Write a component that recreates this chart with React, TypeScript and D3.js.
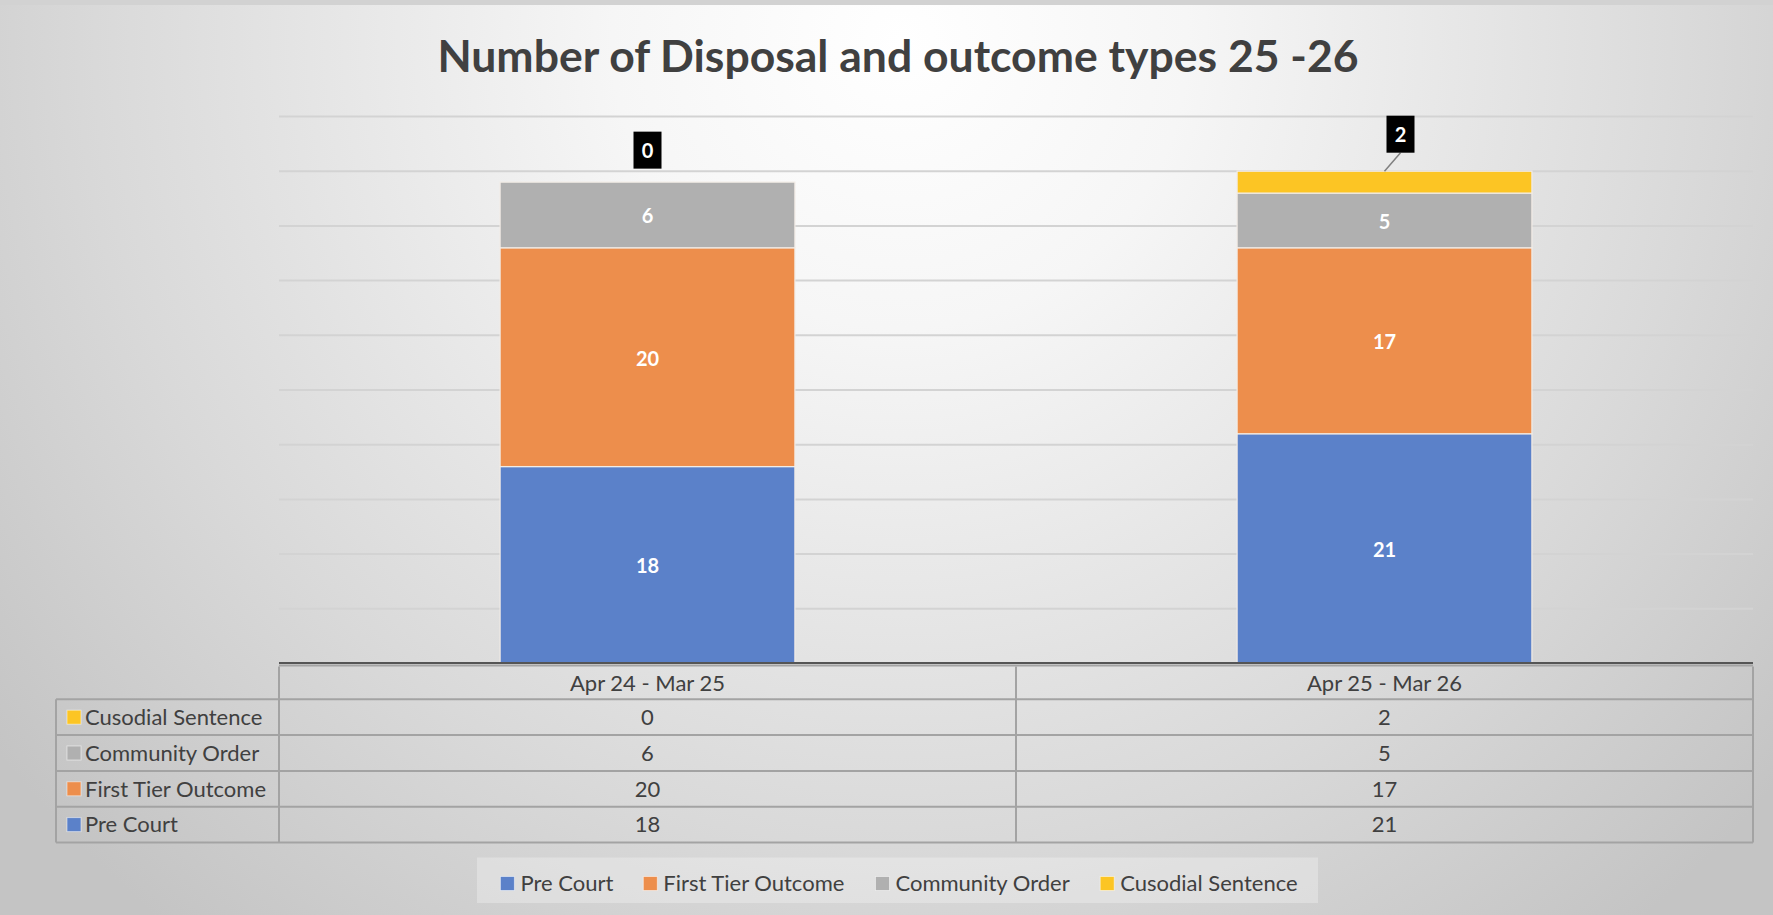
import React, { useMemo } from "react";
import * as d3 from "d3";

// ---- data ----
const categories = ["Apr 24 - Mar 25", "Apr 25 - Mar 26"];
const seriesNames = ["Pre Court", "First Tier Outcome", "Community Order", "Cusodial Sentence"];
const preCourt = [18, 21];
const firstTierOutcome = [20, 17];
const communityOrder = [6, 5];
const cusodialSentence = [0, 2];
const seriesColors = ["#5b81c9", "#ed8e4c", "#b0b0b0", "#fcc524"];
const yDomainMax = 50;
const yTickStep = 5;
const chartTitle = "Number of Disposal and outcome types 25 -26";

// ---- layout ----
const W = 1773;
const H = 915;
const plotLeft = 279;
const plotRight = 1753;
const plotTop = 116.5;
const plotBottom = 663.5;
const tableLeft = 56;
const rowH = 35.8;
const FONT = "Lato, 'Open Sans', sans-serif";
const TEXT = "#404040";
const LINE = "#a3a3a3";
const TABLE_FS = 22;
const LEGEND_FS = 22;
// callout placement of the top-segment labels, relative to the top of each bar
const calloutOffsets = [
  { dx: 0, dy: -32 },
  { dx: 16, dy: -37 },
];

function measure(text: string, font: string): number {
  const c = document.createElement("canvas").getContext("2d");
  if (!c) return text.length * 10;
  c.font = font;
  return c.measureText(text).width;
}

export default function App() {
  const values = [preCourt, firstTierOutcome, communityOrder, cusodialSentence];
  const rows = categories.map((c, i) => {
    const r: Record<string, number | string> = { category: c };
    seriesNames.forEach((s, k) => (r[s] = values[k][i]));
    return r;
  });
  const stacked = d3.stack<any>().keys(seriesNames)(rows as any);

  const x = d3
    .scaleBand<string>()
    .domain(categories)
    .range([plotLeft, plotRight])
    .paddingInner(0.6)
    .paddingOuter(0.3);
  const col = d3.scaleBand<string>().domain(categories).range([plotLeft, plotRight]).padding(0);
  const y = d3.scaleLinear().domain([0, yDomainMax]).range([plotBottom, plotTop]);
  const gridTicks = d3.range(yTickStep, yDomainMax + yTickStep / 2, yTickStep);

  const legendItems = useMemo(() => {
    const gap = 30;
    const widths = seriesNames.map((s) => 20 + measure(s, `${LEGEND_FS}px Lato`));
    const total = d3.sum(widths) + gap * (widths.length - 1);
    let cx = 899 - total / 2;
    return seriesNames.map((s, i) => {
      const item = { name: s, x: cx, color: seriesColors[i] };
      cx += widths[i] + gap;
      return item;
    });
  }, []);

  // table rows listed top-down: last series first
  const tableSeries = seriesNames.map((s, i) => ({ name: s, idx: i })).reverse();
  const headerTop = plotBottom;
  const bodyTop = headerTop + rowH;
  const tableBottom = bodyTop + tableSeries.length * rowH;

  return (
    <svg
      width={W}
      height={H}
      style={{ position: "absolute", left: 0, top: 0, display: "block" }}
      fontFamily={FONT}
    >
      <defs>
        <radialGradient id="bg" gradientUnits="userSpaceOnUse" cx={900} cy={40} r={1150}>
          <stop offset="0" stopColor="#ffffff" />
          <stop offset="0.25" stopColor="#f6f6f6" />
          <stop offset="0.7" stopColor="#d9d9d9" />
          <stop offset="1" stopColor="#c4c4c4" />
        </radialGradient>
      </defs>
      <rect x={0} y={0} width={W} height={H} fill="url(#bg)" />
      <rect x={0} y={0} width={W} height={5} fill="#d2d2d2" />

      {/* title */}
      <text x={898} y={72} textAnchor="middle" fontSize={44.5} fontWeight={700} fill={TEXT}>
        {chartTitle}
      </text>

      {/* gridlines */}
      {gridTicks.map((t) => (
        <line
          key={t}
          x1={plotLeft}
          x2={plotRight}
          y1={y(t)}
          y2={y(t)}
          stroke="#d3d3d3"
          strokeWidth={2}
        />
      ))}

      {/* stacked bars */}
      {stacked.map((layer, si) => (
        <g key={layer.key} fill={seriesColors[si]}>
          {layer.map((d, i) => {
            const h = y(d[0]) - y(d[1]);
            if (h <= 0) return null;
            return (
              <rect
                key={i}
                x={x(categories[i])!}
                y={y(d[1])}
                width={x.bandwidth()}
                height={h}
                stroke="#f2ece6"
                strokeWidth={1.2}
              />
            );
          })}
        </g>
      ))}

      {/* in-bar value labels */}
      {stacked.slice(0, 3).map((layer) =>
        layer.map((d, i) => (
          <text
            key={layer.key + i}
            x={x(categories[i])! + x.bandwidth() / 2}
            y={(y(d[0]) + y(d[1])) / 2}
            dy="0.42em"
            textAnchor="middle"
            fontSize={20}
            fontWeight={700}
            fill="#ffffff"
          >
            {d.data[layer.key]}
          </text>
        ))
      )}

      {/* callout labels for the top series */}
      {stacked[3].map((d, i) => {
        const cx = x(categories[i])! + x.bandwidth() / 2;
        const top = y(d[1]);
        const off = calloutOffsets[i];
        const bx = cx + off.dx;
        const by = top + off.dy;
        const label = String(d.data[seriesNames[3]]);
        const bw = 28;
        const bh = 37;
        return (
          <g key={i}>
            {off.dx !== 0 && (
              <line x1={bx} y1={by + bh / 2} x2={cx} y2={top} stroke="#7f7f7f" strokeWidth={1.5} />
            )}
            <rect x={bx - bw / 2} y={by - bh / 2} width={bw} height={bh} fill="#000000" />
            <text
              x={bx}
              y={by}
              dy="0.38em"
              textAnchor="middle"
              fontSize={20}
              fontWeight={700}
              fill="#ffffff"
            >
              {label}
            </text>
          </g>
        );
      })}

      {/* data table */}
      <g>
        {/* category axis line along the top of the table */}
        <line x1={plotLeft} x2={plotRight} y1={headerTop - 0.5} y2={headerTop - 0.5} stroke="#555555" strokeWidth={2} />
        <line x1={plotLeft} x2={plotRight} y1={headerTop + 2} y2={headerTop + 2} stroke={LINE} strokeWidth={2} />
        {/* horizontal row lines */}
        {d3.range(tableSeries.length + 1).map((r) => (
          <line
            key={r}
            x1={tableLeft}
            x2={plotRight}
            y1={bodyTop + r * rowH}
            y2={bodyTop + r * rowH}
            stroke={LINE}
            strokeWidth={2}
          />
        ))}
        {/* vertical lines */}
        <line x1={tableLeft} x2={tableLeft} y1={bodyTop} y2={tableBottom} stroke={LINE} strokeWidth={2} />
        {[plotLeft, ...categories.map((c) => col(c)! + col.bandwidth())].map((vx, k) => (
          <line key={k} x1={vx} x2={vx} y1={headerTop + 3} y2={tableBottom} stroke={LINE} strokeWidth={2} />
        ))}
        {/* header */}
        {categories.map((c) => (
          <text
            key={c}
            x={col(c)! + col.bandwidth() / 2}
            y={headerTop + rowH / 2 + 2}
            dy="0.35em"
            textAnchor="middle"
            fontSize={TABLE_FS}
            fill={TEXT}
          >
            {c}
          </text>
        ))}
        {/* body rows */}
        {tableSeries.map((s, r) => {
          const cy = bodyTop + r * rowH + rowH / 2;
          return (
            <g key={s.name}>
              <rect x={67} y={cy - 7} width={14} height={14} fill={seriesColors[s.idx]} stroke="#ffffff" strokeOpacity={0.5} strokeWidth={1} />
              <text x={85} y={cy} dy="0.35em" fontSize={TABLE_FS} fill={TEXT}>
                {s.name}
              </text>
              {categories.map((c, i) => (
                <text
                  key={c}
                  x={col(c)! + col.bandwidth() / 2}
                  y={cy}
                  dy="0.35em"
                  textAnchor="middle"
                  fontSize={TABLE_FS}
                  fill={TEXT}
                >
                  {values[s.idx][i]}
                </text>
              ))}
            </g>
          );
        })}
      </g>

      {/* legend */}
      <rect x={477} y={857.5} width={841} height={45.5} fill="#ffffff" fillOpacity={0.28} />
      {legendItems.map((it) => (
        <g key={it.name}>
          <rect x={it.x} y={876.5} width={14} height={14} fill={it.color} stroke="#ffffff" strokeOpacity={0.5} strokeWidth={1} />
          <text x={it.x + 20} y={883.5} dy="0.35em" fontSize={LEGEND_FS} fill={TEXT}>
            {it.name}
          </text>
        </g>
      ))}
    </svg>
  );
}
